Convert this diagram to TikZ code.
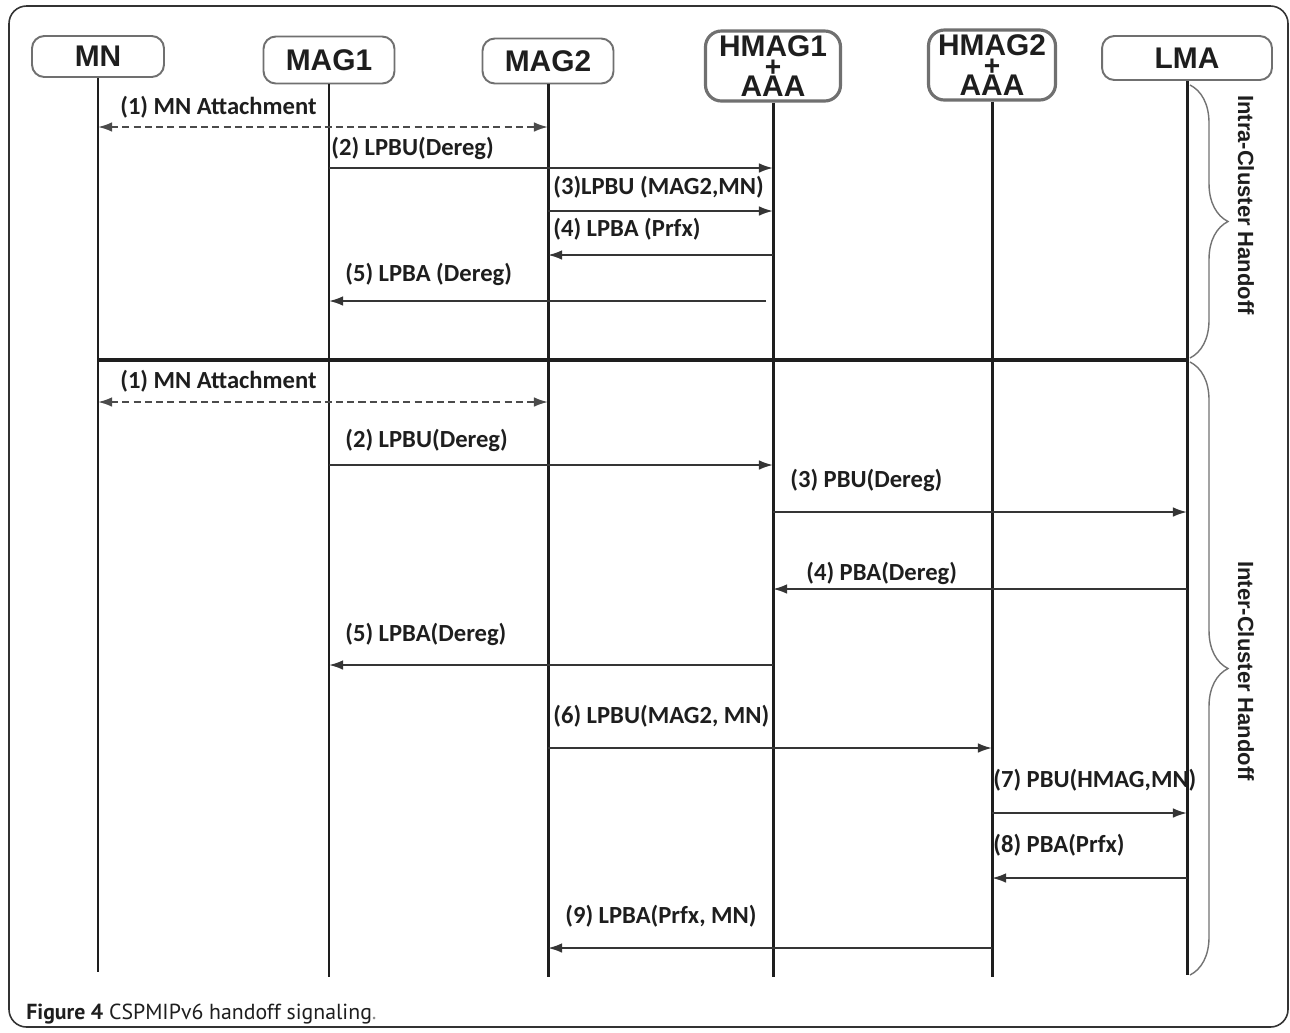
\documentclass[tikz,border=0pt]{standalone}
\usepackage{fontspec}
\setmainfont{Liberation Sans}
\newfontfamily\lblfont{Carlito}
\newfontfamily\capfont{PT Sans}
\usetikzlibrary{arrows.meta,decorations.pathreplacing}
\definecolor{boxgray}{HTML}{707070}
\definecolor{ink}{HTML}{1E1E1E}

\begin{document}
\begin{tikzpicture}[x=0.02cm,y=-0.02cm,
  head/.style={draw=boxgray, line width=1.1pt, rounded corners=7pt, fill=white,
    font=\fontsize{17}{17}\selectfont\bfseries, text=ink, inner sep=0pt},
  hhead/.style={head, line width=1.8pt, rounded corners=9pt, align=center,
    font=\fontsize{17}{11.3}\selectfont\bfseries,
    execute at begin node={\lineskiplimit=-30pt\relax}},
  life/.style={line width=1.7pt, draw=ink},
  sep/.style={line width=2pt, draw=ink},
  msg/.style={line width=1.1pt, draw=ink!90, -{Latex[length=8pt,width=5.5pt]}},
  attach/.style={line width=1.1pt, draw=ink!80, dash pattern=on 4pt off 2.4pt,
    {Latex[length=8pt,width=5.5pt]}-{Latex[length=8pt,width=5.5pt]}},
  lbl/.style={font=\lblfont\fontsize{14}{16}\selectfont\bfseries, text=ink,
    anchor=west, inner sep=0pt},
  brace/.style={decorate, decoration={brace, amplitude=0.76cm, aspect=0.5},
    draw=black!55, line width=0.8pt},
  phase/.style={rotate=-90, font=\fontsize{12.5}{14}\selectfont\bfseries, text=ink, inner sep=0pt}
]
\fill[white] (0,0) rectangle (1290,1032);
\useasboundingbox (0,0) rectangle (1290,1032);
% outer frame
\draw[draw=black!80, line width=0.9pt, rounded corners=10pt] (9,6) rectangle (1288,1027);

% participants
\node[head, minimum width=2.64cm, minimum height=0.82cm] (mn) at (98,56.5) {MN};
\node[head, minimum width=2.62cm, minimum height=0.94cm] (mag1) at (329,60) {MAG1};
\node[head, minimum width=2.62cm, minimum height=0.9cm] (mag2) at (548,61) {MAG2};
\node[hhead, minimum width=2.7cm, minimum height=1.4cm] (hmag1) at (773,66)
  {HMAG1\\\fontsize{16}{11.3}\selectfont +\\\fontsize{17}{11.3}\selectfont AAA};
\node[hhead, minimum width=2.54cm, minimum height=1.4cm] (hmag2) at (992,65)
  {HMAG2\\\fontsize{16}{11.3}\selectfont +\\\fontsize{17}{11.3}\selectfont AAA};
\node[head, minimum width=3.4cm, minimum height=0.88cm] (lma) at (1187,58) {LMA};

% lifelines
\coordinate (bot) at (0,977);
\coordinate (botmn) at (0,972);
\coordinate (botlma) at (0,975);
\draw[life] (mn.south) -- (mn |- botmn);
\draw[life] (mag1.south) -- (mag1 |- bot);
\draw[life] (mag2.south) -- (mag2 |- bot);
\draw[life] (hmag1.south) -- (hmag1 |- bot);
\draw[life] (hmag2.south) -- (hmag2 |- bot);
\draw[life] (lma.south) -- (lma |- botlma);

% intra-cluster handoff
\coordinate (a1) at (0,127);
\coordinate (a2) at (0,168);
\coordinate (a3) at (0,211);
\coordinate (a4) at (0,255);
\coordinate (a5) at (766,301);
\draw[attach] (mn |- a1) -- (mag2 |- a1);
\node[lbl] (la1) at (120,107) {(1) MN Attachment};
\draw[msg] (mag1 |- a2) -- (hmag1 |- a2);
\node[lbl] (la2) at (331,148) {(2) LPBU(Dereg)};
\draw[msg] (mag2 |- a3) -- (hmag1 |- a3);
\node[lbl] (la3) at (553,187) {(3)LPBU (MAG2,MN)};
\draw[msg] (hmag1 |- a4) -- (mag2 |- a4);
\node[lbl] (la4) at (553,229) {(4) LPBA (Prfx)};
\draw[msg] (a5) -- (mag1 |- a5);
\node[lbl] (la5) at (345,274) {(5) LPBA (Dereg)};

% separator between the two phases
\coordinate (s) at (0,360);
\draw[sep] (mn |- s) -- (lma |- s);

% inter-cluster handoff
\coordinate (b1) at (0,402);
\coordinate (b2) at (0,465);
\coordinate (b3) at (0,512);
\coordinate (b4) at (0,589);
\coordinate (b5) at (0,665);
\coordinate (b6) at (0,748);
\coordinate (b7) at (0,813);
\coordinate (b8) at (0,878);
\coordinate (b9) at (0,948);
\draw[attach] (mn |- b1) -- (mag2 |- b1);
\node[lbl] (lb1) at (120,381) {(1) MN Attachment};
\draw[msg] (mag1 |- b2) -- (hmag1 |- b2);
\node[lbl] (lb2) at (345,440) {(2) LPBU(Dereg)};
\draw[msg] (hmag1 |- b3) -- (lma |- b3);
\node[lbl] (lb3) at (790,480) {(3) PBU(Dereg)};
\draw[msg] (lma |- b4) -- (hmag1 |- b4);
\node[lbl] (lb4) at (806,573) {(4) PBA(Dereg)};
\draw[msg] (hmag1 |- b5) -- (mag1 |- b5);
\node[lbl] (lb5) at (345,634) {(5) LPBA(Dereg)};
\draw[msg] (mag2 |- b6) -- (hmag2 |- b6);
\node[lbl] (lb6) at (553,716) {(6) LPBU(MAG2, MN)};
\draw[msg] (hmag2 |- b7) -- (lma |- b7);
\node[lbl] (lb7) at (993,780) {(7) PBU(HMAG,MN)};
\draw[msg] (lma |- b8) -- (hmag2 |- b8);
\node[lbl] (lb8) at (993,845) {(8) PBA(Prfx)};
\draw[msg] (hmag2 |- b9) -- (mag2 |- b9);
\node[lbl] (lb9) at (565,916) {(9) LPBA(Prfx, MN)};

% phase braces
\draw[brace] (1190,85) -- (1190,358);
\draw[brace] (1190,362) -- (1190,975);
\node[phase] (intra) at (1246,205) {Intra-Cluster Handoff};
\node[phase] (inter) at (1246,671) {Inter-Cluster Handoff};

% caption
\node[anchor=west, inner sep=0pt, font=\capfont\fontsize{12.4}{14}\selectfont, text=ink] (cap)
  at (26,1014) {\textbf{Figure 4} CSPMIPv6 handoff signaling\textcolor{black!45}{.}};
\end{tikzpicture}
\end{document}
